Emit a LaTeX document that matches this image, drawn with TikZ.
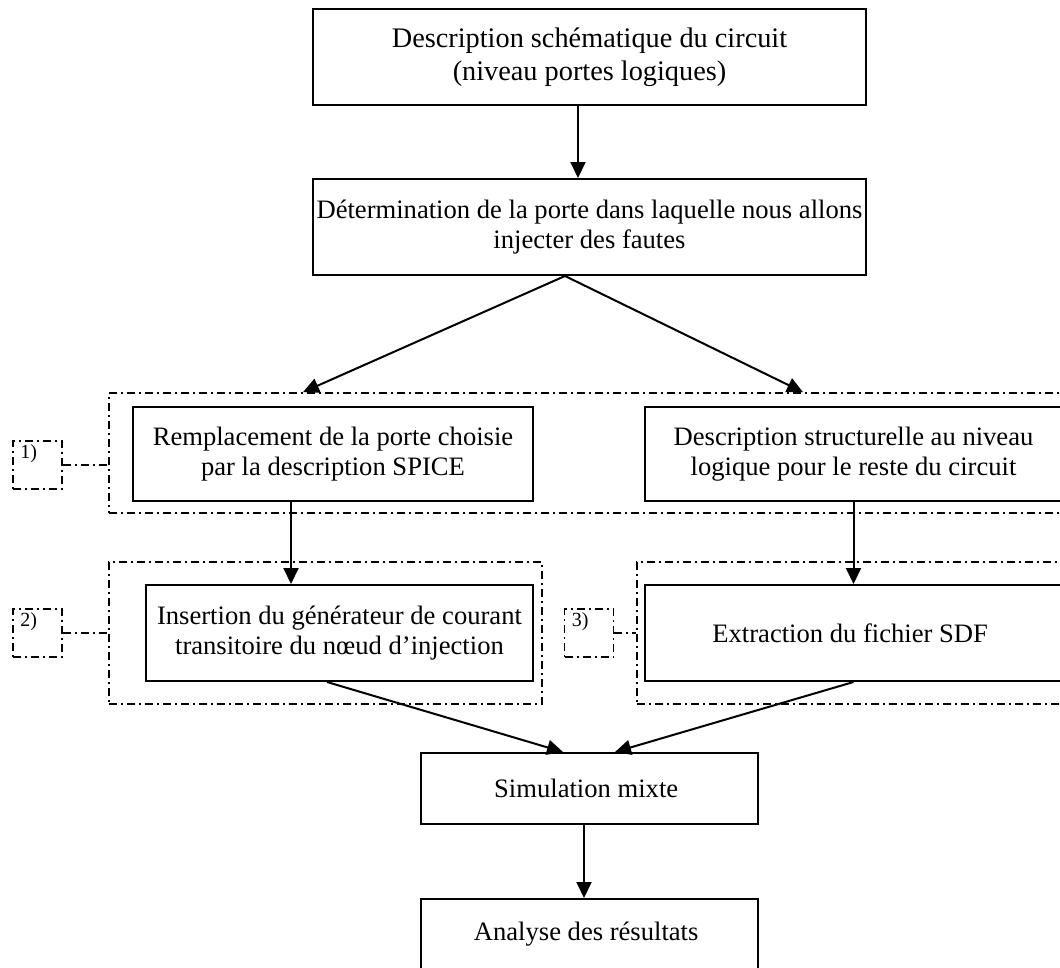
\documentclass[tikz,border=0pt]{standalone}
\usepackage{fontspec}
\setmainfont{Liberation Serif}
\usetikzlibrary{positioning,arrows.meta}

\begin{document}
\begin{tikzpicture}[
        x=1pt, y=-1pt,
        box/.style={
            draw,
            line width=2pt,
            align=center,
            inner sep=0pt,
            font=\fontsize{26.6}{30}\selectfont
        },
        group/.style={
            draw,
            line width=1.7pt,
            dash pattern=on 8pt off 4pt on 2pt off 4pt,
            inner sep=0pt
        },
        tag/.style={
            group,
            minimum width=49pt,
            minimum height=48pt
        },
        tagtext/.style={
            anchor=north west,
            inner sep=0pt,
            xshift=8pt, yshift=-4pt,
            font=\fontsize{20}{22}\selectfont
        },
        link/.style={-{Triangle[length=16pt,width=15pt]}, line width=2pt},
        tie/.style={line width=1.7pt, dash pattern=on 8pt off 4pt on 2pt off 4pt}
    ]
        \useasboundingbox (0,0) rectangle (1060,967);
        \clip (0,0) rectangle (1060,967);

        % main chain
        \node[box, minimum width=553pt, minimum height=96pt,
              font=\fontsize{28.3}{33}\selectfont] (top) at (589.5,57) {
            Description schématique du circuit\\
            (niveau portes logiques)
        };
        \node[box, minimum width=553pt, minimum height=96pt, below=72pt of top] (det) {
            Détermination de la porte dans laquelle nous allons\\
            injecter des fautes
        };

        % groups
        \node[group, minimum width=961pt, minimum height=120pt] (g1) at (589.5,453) {};
        \node[group, minimum width=433pt, minimum height=142pt] (g2) at (325.5,633) {};
        \node[group, minimum width=433pt, minimum height=142pt] (g3) at (853.5,633) {};

        \node[box, minimum width=400pt, minimum height=94pt] (remp) at (333,454) {
            Remplacement de la porte choisie\\
            par la description SPICE
        };
        \node[box, minimum width=417pt, minimum height=94pt] (desc) at (853.5,454) {
            Description structurelle au niveau\\
            logique pour le reste du circuit
        };
        \node[box, minimum width=387pt, minimum height=96pt] (ins) at (339.5,633) {
            Insertion du générateur de courant\\
            transitoire du nœud d’injection
        };
        \node[box, minimum width=417pt, minimum height=96pt] (sdf) at (853.5,633) {
            Extraction du fichier SDF
        };
        \node[box, minimum width=337pt, minimum height=71pt] (sim) at (589.5,788.5) {
            Simulation mixte
        };
        \node[box, minimum width=337pt, minimum height=71pt, below=73pt of sim] (ana) {
            Analyse des résultats
        };

        % step tags
        \node[tag, label={[tagtext]north west:1)}] (tag1) at (37.5,465) {};
        \node[tag, label={[tagtext]north west:2)}] (tag2) at (37.5,633) {};
        \node[tag, label={[tagtext]north west:3)}] (tag3) at (589,633) {};

        \draw[tie] (tag1.east) -- (g1.west |- tag1.east);
        \draw[tie] (tag2.east) -- (g2.west |- tag2.east);
        \draw[tie] (tag3.east) -- (g3.west |- tag3.east);

        \draw[link] ([xshift=-11.5pt]top.south) -- ([xshift=-11.5pt]det.north);
        \draw[link] ([xshift=-24.5pt]det.south) -- ([xshift=-286.5pt]g1.north);
        \draw[link] ([xshift=-24.5pt]det.south) -- ([xshift=213.5pt]g1.north);
        \draw[link] ([xshift=-42pt]remp.south) -- ([xshift=-48.5pt]ins.north);
        \draw[link] (desc.south) -- (sdf.north);
        \draw[link] ([xshift=-12.5pt]ins.south) -- ([xshift=-26.5pt]sim.north);
        \draw[link] (sdf.south) -- ([xshift=25.5pt]sim.north);
        \draw[link] ([xshift=-5.5pt]sim.south) -- ([xshift=-5.5pt]ana.north);
    \end{tikzpicture}
\end{document}
